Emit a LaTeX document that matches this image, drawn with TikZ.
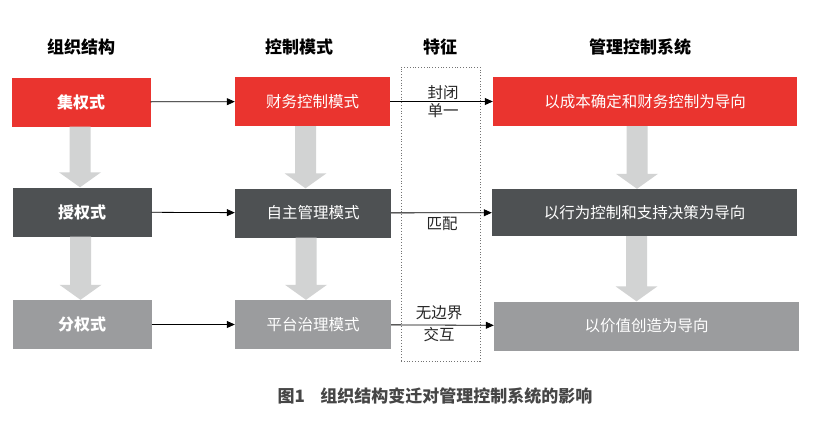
\documentclass[tikz,border=0pt]{standalone}
\usepackage{fontspec}
\newfontfamily\cjk{Noto Sans CJK SC}
\usetikzlibrary{arrows.meta,calc}
\definecolor{cred}{RGB}{234,52,47}
\definecolor{cdark}{RGB}{78,81,83}
\definecolor{clight}{RGB}{155,156,158}
\definecolor{carrow}{RGB}{210,211,211}
\definecolor{ccap}{RGB}{70,70,70}
\tikzset{
  box/.style={minimum height=49pt, inner sep=0pt, text=white, font=\cjk\fontsize{15.5}{18}\selectfont},
  bbox/.style={box, font=\cjk\bfseries\fontsize{16}{18}\selectfont},
  head/.style={font=\cjk\bfseries\fontsize{17}{20}\selectfont, text=black},
  lbl/.style={font=\cjk\fontsize{15.5}{18}\selectfont, text=black!85, inner sep=0pt},
  link/.style={draw=black, line width=0.8pt, -{Triangle[length=8pt,width=7pt]}},
}
\newcommand\fatarr[3]{%
  \fill[carrow] let \p1=(#1.south), \p2=(#2.north) in
    (\x1+#3-10.5pt,\y1) -- (\x1+#3+10.5pt,\y1) -- (\x1+#3+10.5pt,\y2+15pt) -- (\x1+#3+21pt,\y2+15pt)
    -- (\x1+#3,\y2) -- (\x1+#3-21pt,\y2+15pt) -- (\x1+#3-10.5pt,\y2+15pt) -- cycle;}
\begin{document}
\begin{tikzpicture}[x=1pt,y=-1pt]
\useasboundingbox[fill=white] (0,0) rectangle (814,434);
% headers
\node[head] (h1) at (81,47) {组织结构};
\node[head] (h2) at (299,47) {控制模式};
\node[head] (h3) at (440,47) {特征};
\node[head] (h4) at (640,47) {管理控制系统};
% feature dotted box
\node[draw=black!55, dotted, line width=0.8pt, minimum width=79pt, minimum height=294pt, inner sep=0pt] (feat) at (440.5,214) {};
% column 1
\node[bbox, fill=cred, minimum width=139pt] (a1) at (81,102) {集权式};
\node[bbox, fill=cdark, minimum width=139pt] (a2) at (82,212) {授权式};
\node[bbox, fill=clight, minimum width=139pt] (a3) at (82,324.5) {分权式};
% column 2
\node[box, fill=cred, minimum width=155pt] (b1) at (312.5,101.5) {财务控制模式};
\node[box, fill=cdark, minimum width=156pt] (b2) at (313,213) {自主管理模式};
\node[box, fill=clight, minimum width=156pt] (b3) at (313,324.5) {平台治理模式};
% column 4
\node[box, fill=cred, minimum width=304pt] (c1) at (645,101.5) {以成本确定和财务控制为导向};
\node[box, fill=cdark, minimum width=305pt, minimum height=47pt] (c2) at (644.5,212.5) {以行为控制和支持决策为导向};
\node[box, fill=clight, minimum width=305pt] (c3) at (646.5,326) {以价值创造为导向};
% fat gray arrows
\fatarr{a1}{a2}{-1pt}
\fatarr{a2}{a3}{-1.5pt}
\fatarr{b1}{b2}{-7pt}
\fatarr{b2}{b3}{-7pt}
\fatarr{c1}{c2}{-8pt}
\fatarr{c2}{c3}{-8pt}
% horizontal links
\draw[link] (a1) -- (b1);
\draw[link] (a2) -- (b2);
\draw[link] (a3) -- (b3);
\draw[link] (b1) -- (c1);
\draw[link] (b2) -- (c2);
\draw[link] (b3) -- (c3);
% feature labels
\node[lbl] (f1a) at (443,93) {封闭};
\node[lbl] (f1b) at (443,111) {单一};
\node[lbl] (f2) at (442,223.5) {匹配};
\node[lbl] (f3a) at (439,313) {无边界};
\node[lbl] (f3b) at (439,334.5) {交互};
% caption
\node[font=\cjk\bfseries\fontsize{17}{20}\selectfont, text=ccap] (cap) at (435,396) {图1\hspace{0.9em}组织结构变迁对管理控制系统的影响};
\end{tikzpicture}
\end{document}
